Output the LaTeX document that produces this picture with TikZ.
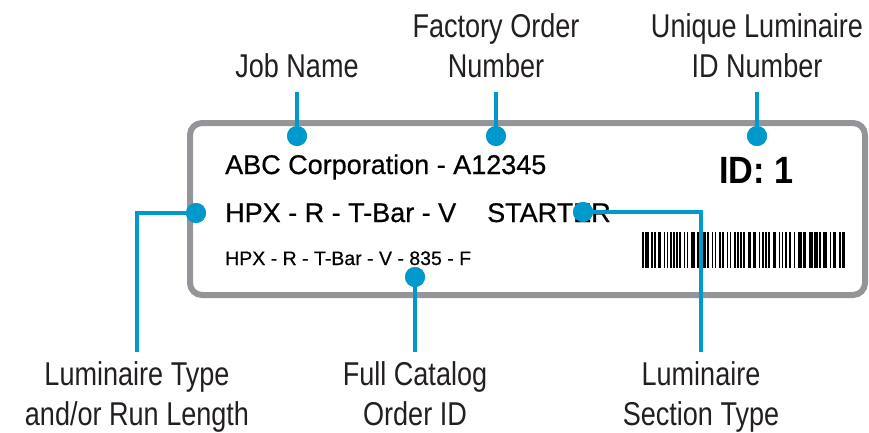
\documentclass[tikz,border=0pt]{standalone}
\usepackage{fontspec}
\setmainfont{Liberation Sans}
\newfontfamily\labfont[FakeStretch=0.82]{Liberation Sans}
\newfontfamily\boxfont[FakeBold=0.6]{Liberation Sans}
\newfontfamily\idfont[FakeStretch=0.9]{Liberation Sans}
\definecolor{lblue}{HTML}{0099CC}
\definecolor{lgray}{HTML}{939598}
\definecolor{ltext}{HTML}{231F20}
\tikzset{
  lab/.style={font=\labfont\fontsize{33}{40}\selectfont, text=ltext, align=center, inner sep=0},
  boxtxt/.style={font=\boxfont\fontsize{27}{32}\selectfont, text=black, inner sep=0, anchor=base west},
  smalltxt/.style={font=\boxfont\fontsize{19.5}{24}\selectfont, text=black, inner sep=0, anchor=base west},
  dot/.style={circle, fill=lblue, minimum size=20, inner sep=0},
  conn/.style={draw=lblue, line width=4},
}
\begin{document}
\begin{tikzpicture}[x=1pt,y=-1pt]
\useasboundingbox (0,0) rectangle (869,433);
% label frame
\draw[lgray, line width=6, rounded corners=12] (190,123) rectangle (865,295);
% top labels (anchor = baseline of last line)
\node[lab, anchor=base] (job) at (297,78) {Job Name};
\node[lab, anchor=base] (fac) at (496,78) {Factory Order\\Number};
\node[lab, anchor=base] (uid) at (757,78) {Unique Luminaire\\ID Number};
% bottom labels
\node[lab, anchor=base] (lum) at (137,425) {Luminaire Type\\and/or Run Length};
\node[lab, anchor=base] (cat) at (415,425) {Full Catalog\\Order ID};
\node[lab, anchor=base] (sec) at (701,425) {Luminaire\\Section Type};
% label text
\node[boxtxt] (abc) at (225,174) {ABC Corporation - A12345};
\node[boxtxt] (hpx) at (225,222) {HPX - R - T-Bar - V};
\node[boxtxt] (start) at (487,222) {STARTER};
\node[smalltxt] (full) at (225,265) {HPX - R - T-Bar - V - 835 - F};
\node[font=\idfont\bfseries\fontsize{38}{44}\selectfont, inner sep=0, anchor=base west] (idn) at (719,183) {ID: 1};
% barcode
\pgfmathsetseed{11}
\xdef\barx{642}
\foreach \i in {1,...,70} {
  \pgfmathsetmacro{\bw}{random(1,3)==3 ? 3.4 : 1.6}
  \pgfmathsetmacro{\gw}{random(1,3)==3 ? 2.8 : 1.5}
  \pgfmathsetmacro{\nx}{\barx+\bw+\gw}
  \ifdim \nx pt < 847pt
    \fill[black] (\barx,232) rectangle ++(\bw,36);
  \fi
  \xdef\barx{\nx}
}
% connector ends
\coordinate (t1) at (297,92);
\coordinate (t2) at (496,92);
\coordinate (t3) at (757,92);
\coordinate (b1) at (137,352);
\coordinate (b2) at (415,352);
\coordinate (b3) at (701,352);
% dots
\node[dot] (d1) at (297,136) {};
\node[dot] (d2) at (496,136) {};
\node[dot] (d3) at (757,136) {};
\node[dot] (d4) at (196,213) {};
\node[dot] (d5) at (415,277) {};
\node[dot] (d6) at (583,212) {};
% connectors
\draw[conn] (t1) -- (d1.center);
\draw[conn] (t2) -- (d2.center);
\draw[conn] (t3) -- (d3.center);
\draw[conn] (d4.center) -| (b1);
\draw[conn] (d5.center) -- (b2);
\draw[conn] (d6.center) -| (b3);
% dots on top of the connectors
\foreach \d in {d1,d2,d3,d4,d5,d6} \fill[lblue] (\d) circle (10);
\end{tikzpicture}
\end{document}
